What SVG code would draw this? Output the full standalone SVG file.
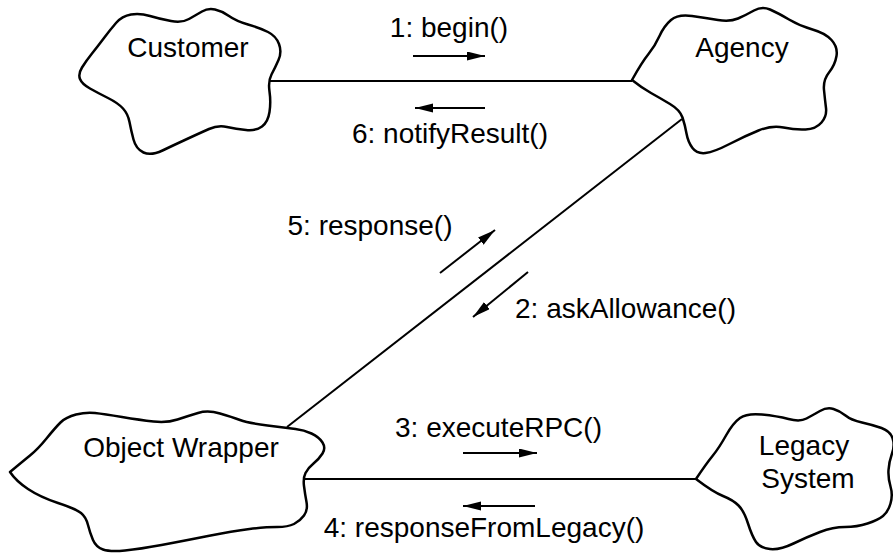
<svg xmlns="http://www.w3.org/2000/svg" width="893" height="553" viewBox="0 0 893 553">
  <defs>
    <marker id="head" markerUnits="userSpaceOnUse" markerWidth="20" markerHeight="10" refX="18" refY="4.5" orient="auto">
      <path d="M0,0 L18,4.5 L0,9 Z" fill="#000"/>
    </marker>
    <style>
      .cloud { fill: #fff; stroke: #000; stroke-width: 2.5; stroke-linejoin: round; }
      .link { stroke: #000; stroke-width: 2; fill: none; }
      .msg { stroke: #000; stroke-width: 2; fill: none; marker-end: url(#head); }
      text { font-family: "Liberation Sans", Arial, sans-serif; font-size: 28px; fill: #000; }
      .c { text-anchor: middle; }
    </style>
  </defs>
  <rect width="893" height="553" fill="#fff"/>

  <!-- links between objects -->
  <g id="connectors">
    <line class="link" x1="269" y1="81" x2="632" y2="81"/>
    <line class="link" x1="682" y1="119" x2="287" y2="427"/>
    <line class="link" x1="303" y1="479" x2="696" y2="479"/>
  </g>

  <!-- message arrows and labels -->
  <g id="messages">
    <line class="msg" x1="413" y1="56" x2="485" y2="56"/>
    <text class="c" x="449" y="37">1: begin()</text>
    <line class="msg" x1="485" y1="108" x2="415" y2="108"/>
    <text class="c" x="450" y="143">6: notifyResult()</text>
    <line class="msg" x1="440" y1="273" x2="495" y2="230"/>
    <text class="c" x="370" y="235">5: response()</text>
    <line class="msg" x1="528" y1="272" x2="473" y2="317"/>
    <text x="515" y="318">2: askAllowance()</text>
    <line class="msg" x1="463" y1="453" x2="537" y2="453"/>
    <text x="395" y="437">3: executeRPC()</text>
    <line class="msg" x1="535" y1="506" x2="463" y2="506"/>
    <text class="c" x="484" y="537">4: responseFromLegacy()</text>
  </g>

  <g id="customer">
    <path class="cloud" d="M104,38 Q110,30 116,23 Q122,16 131,14.5 Q140,13 150,16 Q160,19 171,21 Q182,23 189,19 Q196,15 202,11.5 Q208,8 215,9.5 Q222,11 229,16 Q236,21 248,24.5 Q260,28 268,32 Q276,36 279,44 Q282,52 278.5,60 Q275,68 271.5,74.5 Q268,81 269.5,91.5 Q271,102 269.5,112 Q268,122 262,126.5 Q256,131 246,130 Q236,129 227,127 Q218,125 209,129 Q200,133 187,139 Q174,145 162.5,150.5 Q151,156 143.5,152.5 Q136,149 133.5,139.5 Q131,130 129.5,122 Q128,114 123,108.5 Q118,103 108,98 Q98,93 90,88.5 Q82,84 80,79 Q78,74 82,67.5 Q86,61 92,53.5 Q98,46 104,38 Z"/>
    <text class="c" x="188" y="57">Customer</text>
  </g>

  <g id="agency">
    <path class="cloud" d="M632,80 Q642,62 648.5,54 Q655,46 659.5,36 Q664,26 671,20 Q678,14 692,16 Q706,18 718,20 Q730,22 738,18.5 Q746,15 754,10.5 Q762,6 770,9.5 Q778,13 789,19.5 Q800,26 812.5,29.5 Q825,33 831.5,40 Q838,47 836.5,56 Q835,65 829,72.5 Q823,80 824,90 Q825,100 826,108 Q827,116 821.5,122.5 Q816,129 805.5,129.5 Q795,130 783.5,127.5 Q772,125 758.5,130.5 Q745,136 729.5,144 Q714,152 705.5,153 Q697,154 692.5,148 Q688,142 686.5,133.5 Q685,125 682.5,117.5 Q680,110 670,104 Q660,98 651,93 Q642,88 632,80 Z"/>
    <text class="c" x="742" y="57">Agency</text>
  </g>

  <g id="object-wrapper">
    <path class="cloud" d="M10,472 Q22,462 30,455.5 Q38,449 46.5,438.5 Q55,428 60.5,422.5 Q66,417 76,414.5 Q86,412 95,413 Q104,414 122,417 Q140,420 153.5,421.5 Q167,423 177.5,419.5 Q188,416 198,413 Q208,410 220,413.5 Q232,417 240,420 Q248,423 267.5,425.5 Q287,428 295.5,429 Q304,430 311.5,433.5 Q319,437 322.5,442.5 Q326,448 322.5,453.5 Q319,459 313.5,463.5 Q308,468 305.5,473 Q303,478 304,486 Q305,494 306.5,502 Q308,510 304,515.5 Q300,521 294,524 Q288,527 277,527 Q266,527 249.5,529 Q233,531 208,536 Q183,541 161.5,545 Q140,549 125,550.5 Q110,552 103,549.5 Q96,547 93,540 Q90,533 88,525 Q86,517 81,513 Q76,509 58,503 Q40,497 28,489 Q16,481 10,472 Z"/>
    <text class="c" x="181" y="457">Object Wrapper</text>
  </g>

  <g id="legacy-system">
    <path class="cloud" d="M696,479 Q706,464 712.5,456 Q719,448 726,435.5 Q733,423 740,418 Q747,413 762,414.5 Q777,416 788.5,419 Q800,422 806.5,418.5 Q813,415 820,411 Q827,407 833.5,409 Q840,411 845.5,415.5 Q851,420 862,422.5 Q873,425 881.5,428 Q890,431 892.5,438 Q895,445 892,453.5 Q889,462 888.5,470 Q888,478 890.5,486.5 Q893,495 890.5,503.5 Q888,512 883,516 Q878,520 867.5,523.5 Q857,527 845,527 Q833,527 820,532 Q807,537 793.5,543.5 Q780,550 770,549 Q760,548 756,542 Q752,536 748,523.5 Q744,511 738.5,505.5 Q733,500 723,496 Q713,492 696,479 Z"/>
    <text class="c" x="804" y="455">Legacy</text>
    <text class="c" x="808" y="488">System</text>
  </g>
</svg>
